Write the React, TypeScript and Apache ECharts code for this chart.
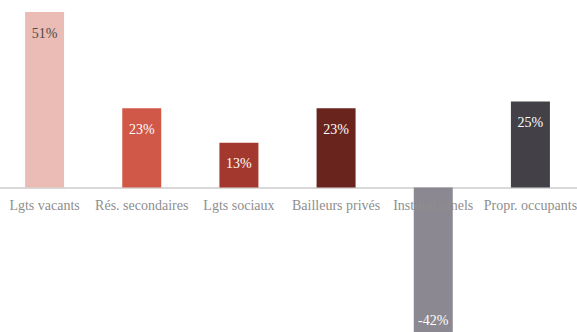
import React, { useEffect, useRef } from "react";
import * as echarts from "echarts";

const categories = ["Lgts vacants", "Rés. secondaires", "Lgts sociaux", "Bailleurs privés", "Institutionnels", "Propr. occupants"];
const values = [51, 23, 13, 23, -42, 25];
const colors = ["#EBBCB5", "#D05848", "#A3392E", "#6A241E", "#8B8891", "#434047"];
const labelColors = ["#4a4a4a", "#ffffff", "#ffffff", "#ffffff", "#ffffff", "#ffffff"];

export default function App() {
  const ref = useRef<HTMLDivElement>(null);
  useEffect(() => {
    if (!ref.current) return;
    const chart = echarts.init(ref.current, undefined, { renderer: "svg" });
    const font = "Liberation Serif";
    chart.setOption({
      animation: false,
      textStyle: { fontFamily: font },
      grid: { left: -4, right: -2, top: 12, bottom: 0, containLabel: false, outerBoundsMode: "none" },
      xAxis: [
        {
          type: "category",
          data: categories,
          axisLine: { show: true, onZero: true, lineStyle: { color: "#d9d9d9", width: 2 } },
          axisTick: { show: false },
          axisLabel: { show: false },
        },
        {
          type: "category",
          data: categories,
          position: "bottom",
          offset: -145,
          z: 5,
          axisLine: { show: false, onZero: false },
          axisTick: { show: false },
          axisLabel: { color: "#8e8e8e", fontFamily: font, fontSize: 14, margin: 11, interval: 0, hideOverlap: false },
        },
      ],
      yAxis: { type: "value", min: -42, max: 51, show: false, splitLine: { show: false } },
      series: [
        {
          type: "bar",
          xAxisIndex: 0,
          barWidth: 39,
          data: values.map((v, i) => ({
            value: v,
            itemStyle: { color: colors[i] },
            label: {
              show: true,
              position: v >= 0 ? "insideTop" : "insideBottom",
              distance: v >= 0 ? 14 : 5,
              color: labelColors[i],
              fontFamily: font,
              fontSize: 14,
              formatter: (p: any) => p.value + "%",
            },
          })),
        },
      ],
    });
    return () => chart.dispose();
  }, []);
  return <div ref={ref} style={{ width: 577, height: 332, position: "absolute", left: 0, top: 0 }} />;
}
